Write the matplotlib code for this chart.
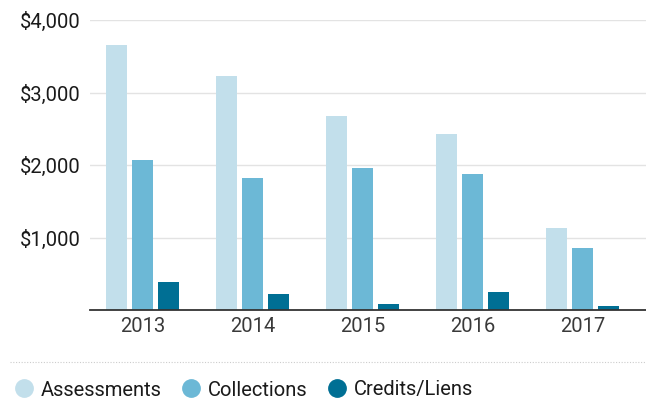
import matplotlib
matplotlib.use("Agg")
import matplotlib.pyplot as plt
from matplotlib.lines import Line2D
import numpy as np

years = ["2013", "2014", "2015", "2016", "2017"]
assessments = [3650, 3230, 2680, 2430, 1130]
collections = [2070, 1820, 1960, 1875, 855]
credits_liens = [386, 221, 83, 248, 55]
series_names = ["Assessments", "Collections", "Credits/Liens"]
colors = ["#c2dfeb", "#6cb8d6", "#006f94"]
yticks = [1000, 2000, 3000, 4000]
ytick_labels = ["$1,000", "$2,000", "$3,000", "$4,000"]

plt.rcParams['font.family'] = ['Roboto', 'DejaVu Sans']

fig = plt.figure(figsize=(6.46, 4.03), dpi=100)
ax = fig.add_axes([90/646, 1-310/403, 1-90/646, 290/403])

x = np.arange(len(years))
w = 0.19
off = 0.236
for i, (vals, c) in enumerate(zip([assessments, collections, credits_liens], colors)):
    ax.bar(x + (i-1)*off, vals, width=w, color=c, zorder=3, label=series_names[i])

ax.set_xlim(-0.477, 4.577)
ax.set_ylim(0, 4000)
for s in ax.spines.values():
    s.set_visible(False)
ax.set_yticks(yticks)
ax.set_yticklabels(ytick_labels)
ax.yaxis.grid(True, color="#e3e3e3", lw=1, zorder=0)
ax.set_xticks(x)
ax.set_xticklabels(years)
ax.tick_params(axis='y', length=0, pad=7, labelsize=14.5, labelcolor="#1a1a1a")
ax.tick_params(axis='x', length=0, pad=5, labelsize=14.5, labelcolor="#3a3a3a")
ax.axhline(0, color="#333333", lw=1.3, zorder=4, clip_on=False)

# separator
fig.add_artist(Line2D([10/646, 1], [1-362/403, 1-362/403], color="#cccccc", lw=0.8, ls=(0, (1, 1.5))))

handles = [Line2D([], [], marker='o', ls='none', markersize=12.5, markerfacecolor=c, markeredgecolor=c) for c in colors]
fig.legend(handles, series_names, loc='center left', bbox_to_anchor=(4/646, 1-390/403),
           ncol=3, frameon=False, fontsize=14.5, handletextpad=0.2, columnspacing=0.9,
           handlelength=1.2, borderaxespad=0, labelcolor="#1a1a1a")

fig.savefig("out.png", dpi=100)
